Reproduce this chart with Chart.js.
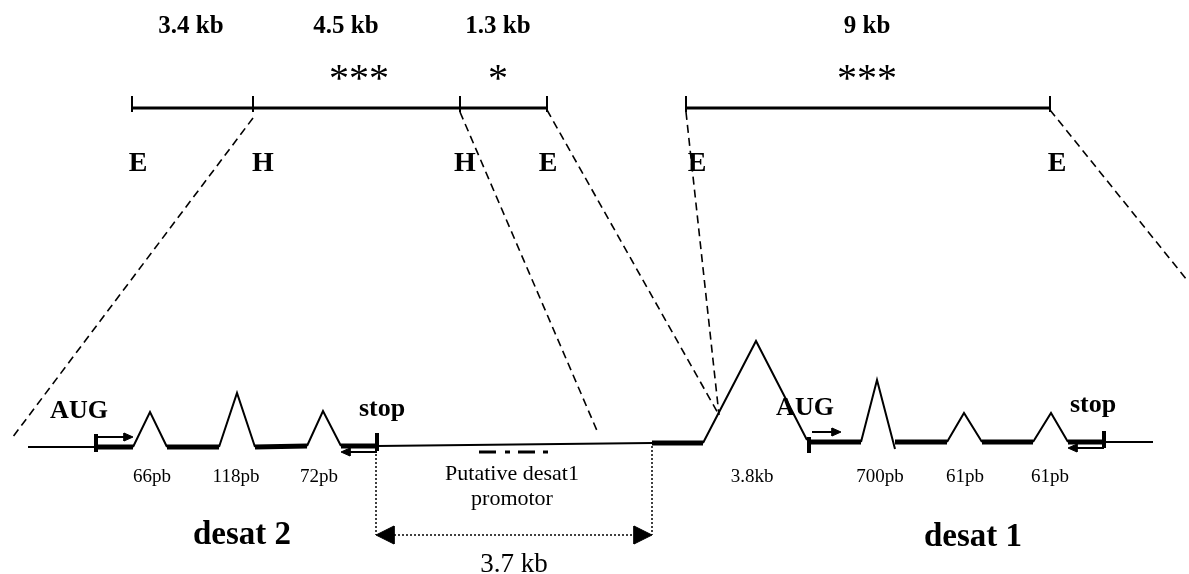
<!DOCTYPE html>
<html>
<head>
<meta charset="utf-8">
<script src="https://cdn.jsdelivr.net/npm/chart.js"></script>
<style>
  html, body { margin: 0; padding: 0; background: #fff; overflow: hidden; }
  #wrap { width: 1189px; height: 574px; }
</style>
</head>
<body>
<div id="wrap"><canvas id="map" width="1189" height="574"></canvas></div>
<script>
// ---------------- restriction map (top) ----------------
const mapY = 108;
const mapSitesA = [132, 253, 460, 547];
const mapSitesB = [686, 1050];
const fragLabels = ['3.4 kb', '4.5 kb', '1.3 kb', '9 kb'];
const fragLabelX = [191, 346, 498, 867];
const starLabels = ['***', '*', '***'];
const starX = [359, 498, 867];
const siteLetters = ['E', 'H', 'H', 'E', 'E', 'E'];
const siteLetterX = [138, 263, 465, 548, 697, 1057];

// dashed zoom lines, map site -> gene region
const zoomLines = [
  [[253, 118], [12, 438]],
  [[460, 112], [598, 433]],
  [[547, 110], [719, 415]],
  [[686, 112], [719, 415]],
  [[1050, 110], [1187, 280]]
];

// ---------------- gene structure (bottom) ----------------
const thinLines = [
  [[28, 447], [96, 447]],
  [[377, 446], [652, 443]],
  [[1104, 442], [1153, 442]]
];
const exons = [
  [[96, 447], [133, 447]],
  [[167, 447], [219, 447]],
  [[255, 447], [307, 446]],
  [[341, 446], [377, 446]],
  [[652, 443], [703, 443]],
  [[808, 442], [861, 442]],
  [[895, 442], [947, 442]],
  [[982, 442], [1033, 442]],
  [[1068, 442], [1104, 442]]
];
const introns = [
  [[133, 447], [150, 412], [167, 447]],
  [[219, 447], [237, 393], [255, 447]],
  [[307, 446], [323, 411], [341, 446]],
  [[703, 443], [756, 341], [807, 440]],
  [[861, 442], [877, 380], [895, 449]],
  [[947, 442], [964, 413], [982, 442]],
  [[1033, 442], [1051, 413], [1068, 442]]
];
const intronLabels = ['66pb', '118pb', '72pb', '3.8kb', '700pb', '61pb', '61pb'];
const intronLabelX = [152, 236, 319, 752, 880, 965, 1050];

// start / stop brackets: vertical bars, arrow shafts, arrow heads [tipX, tipY, dir]
const bars = [
  [[96, 434], [96, 452]],
  [[377, 433], [377, 451]],
  [[809, 437], [809, 453]],
  [[1104, 431], [1104, 448]]
];
const shafts = [
  [[96, 437], [126, 437]],
  [[377, 452], [348, 452]],
  [[812, 432], [834, 432]],
  [[1104, 448], [1075, 448]]
];
const smallHeads = [[133, 437, 1], [341, 452, -1], [841, 432, 1], [1068, 448, -1]];
const codonLabels = ['AUG', 'stop', 'AUG', 'stop'];
const codonX = [79, 382, 805, 1093];
const codonY = [411, 409, 408, 405];

// putative promotor marks
const promotorMarks = [[479, 496], [505, 510], [518, 535], [543, 548]];
const promotorY = 452;

// 3.7 kb span
const spanX = [376, 652];
const spanTop = [450, 446];
const spanY = 535;

// ---------------- build datasets ----------------
const ds = [];
function seg(pts, w, dash) {
  ds.push({
    data: pts.map(p => ({ x: p[0], y: p[1] })),
    showLine: true, borderColor: '#000', borderWidth: w,
    borderDash: dash || [], pointRadius: 0, fill: false,
    borderCapStyle: 'butt', tension: 0
  });
}
function head(tipX, tipY, dir, len, half) {
  const bx = tipX - dir * len;
  ds.push({
    data: [{ x: tipX, y: tipY }, { x: bx, y: tipY - half }, { x: bx, y: tipY + half }, { x: tipX, y: tipY }],
    showLine: true, borderColor: '#000', borderWidth: 1, pointRadius: 0,
    backgroundColor: '#000', fill: 'shape', tension: 0
  });
}

// map lines
seg([[mapSitesA[0], mapY], [mapSitesA[mapSitesA.length - 1], mapY]], 3);
seg([[mapSitesB[0], mapY], [mapSitesB[mapSitesB.length - 1], mapY]], 3);
mapSitesA.concat(mapSitesB).forEach(x => seg([[x, mapY - 12], [x, mapY + 4]], 2));
zoomLines.forEach(l => seg(l, 1.6, [8, 5]));

thinLines.forEach(l => seg(l, 2));
exons.forEach(l => seg(l, 5));
introns.forEach(l => seg(l, 2));
bars.forEach(l => seg(l, 4));
shafts.forEach(l => seg(l, 2));
smallHeads.forEach(h => head(h[0], h[1], h[2], 9, 4));
promotorMarks.forEach(m => seg([[m[0], promotorY], [m[1], promotorY]], 3));

seg([[spanX[0], spanTop[0]], [spanX[0], spanY]], 1.5, [2, 2]);
seg([[spanX[1], spanTop[1]], [spanX[1], spanY]], 1.5, [2, 2]);
seg([[spanX[0] + 18, spanY], [spanX[1] - 18, spanY]], 1.5, [2, 2]);
head(spanX[0], spanY, -1, 18, 9);
head(spanX[1], spanY, 1, 18, 9);

// ---------------- text ----------------
const serif = "'Liberation Serif', 'Times New Roman', serif";
const texts = [];
fragLabels.forEach((t, i) => texts.push([t, fragLabelX[i], 27, 'bold 25px ' + serif]));
starLabels.forEach((t, i) => texts.push([t, starX[i], 80, '40px ' + serif]));
siteLetters.forEach((t, i) => texts.push([t, siteLetterX[i], 164, 'bold 28px ' + serif]));
codonLabels.forEach((t, i) => texts.push([t, codonX[i], codonY[i], 'bold 26px ' + serif]));
intronLabels.forEach((t, i) => texts.push([t, intronLabelX[i], 477, '19px ' + serif]));
texts.push(['Putative desat1', 512, 474, '22px ' + serif]);
texts.push(['promotor', 512, 499, '22px ' + serif]);
texts.push(['desat 2', 242, 535, 'bold 33px ' + serif]);
texts.push(['desat 1', 973, 537, 'bold 33px ' + serif]);
texts.push(['3.7 kb', 514, 565, '27px ' + serif]);

const textPlugin = {
  id: 'texts',
  afterDatasetsDraw(chart) {
    const c = chart.ctx, xs = chart.scales.x, ys = chart.scales.y;
    c.save();
    c.fillStyle = '#000';
    c.textAlign = 'center';
    c.textBaseline = 'middle';
    texts.forEach(t => {
      c.font = t[3];
      c.fillText(t[0], xs.getPixelForValue(t[1]), ys.getPixelForValue(t[2]));
    });
    c.restore();
  }
};

new Chart(document.getElementById('map'), {
  type: 'scatter',
  data: { datasets: ds },
  options: {
    responsive: false,
    devicePixelRatio: 1,
    animation: false,
    layout: { padding: 0 },
    scales: {
      x: { type: 'linear', min: 0, max: 1189, display: false },
      y: { type: 'linear', min: 0, max: 574, reverse: true, display: false }
    },
    plugins: { legend: { display: false }, tooltip: { enabled: false } }
  },
  plugins: [textPlugin]
});
</script>
</body>
</html>
